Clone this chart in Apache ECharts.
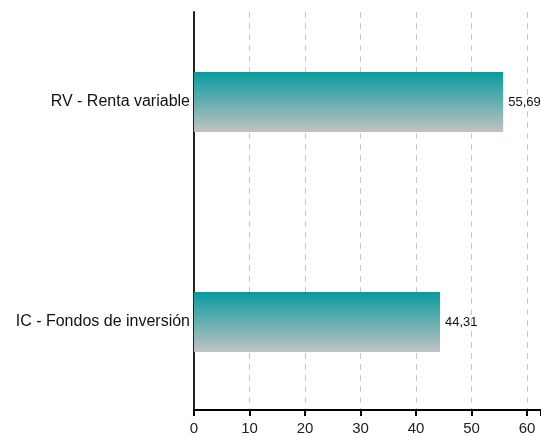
<!DOCTYPE html>
<html>
<head>
<meta charset="utf-8">
<script src="https://cdn.jsdelivr.net/npm/echarts@6/dist/echarts.min.js"></script>
<style>
html,body{margin:0;padding:0;background:#fff;}
#chart{width:541px;height:436px;}
</style>
</head>
<body>
<div id="chart"></div>
<script>
var categories = ['IC - Fondos de inversión', 'RV - Renta variable'];
var values = [44.31, 55.69];
var xTicks = [0, 10, 20, 30, 40, 50, 60];

var chart = echarts.init(document.getElementById('chart'), null, {renderer: 'canvas'});
var FONT = 'Liberation Sans, Arial, sans-serif';
var option = {
  animation: false,
  backgroundColor: '#ffffff',
  grid: [
    {left: 194, right: 0, top: 12, height: 398, outerBoundsMode: 'none', containLabel: false},
    {left: 194, right: 0, top: -8, height: 440, outerBoundsMode: 'none', containLabel: false}
  ],
  xAxis: [
    {
      type: 'value', gridIndex: 0, min: 0, max: 62.5, interval: 10,
      axisLine: {show: true, lineStyle: {color: '#000', width: 2}},
      axisTick: {show: true, length: 6, lineStyle: {color: '#000', width: 2}},
      axisLabel: {
        margin: 11, fontSize: 15, color: '#222', fontFamily: FONT,
        formatter: function (v) { return xTicks.indexOf(v) >= 0 ? String(v) : ''; }
      },
      splitLine: {show: true, lineStyle: {color: '#c8c8c8', type: [6, 5], width: 1}}
    },
    {
      type: 'value', gridIndex: 1, min: 0, max: 62.5, show: false
    }
  ],
  yAxis: [
    {
      type: 'category', gridIndex: 0, data: categories,
      axisLine: {show: true, lineStyle: {color: '#222', width: 2}},
      axisTick: {show: false}, axisLabel: {show: false}, splitLine: {show: false}
    },
    {
      type: 'category', gridIndex: 1, data: categories,
      axisLine: {show: false}, axisTick: {show: false},
      axisLabel: {margin: 4, fontSize: 16, color: '#111', fontFamily: FONT}
    }
  ],
  series: [{
    type: 'bar', xAxisIndex: 1, yAxisIndex: 1,
    data: values, barWidth: 60,
    itemStyle: {
      color: new echarts.graphic.LinearGradient(0, 0, 0, 1, [
        {offset: 0, color: '#079b9e'},
        {offset: 1, color: '#c2c2c2'}
      ])
    },
    label: {
      show: true, position: 'right', distance: 5,
      fontSize: 13, color: '#111', fontFamily: FONT,
      formatter: function (p) { return p.value.toFixed(2).replace('.', ','); }
    }
  }]
};
chart.setOption(option);
</script>
</body>
</html>
